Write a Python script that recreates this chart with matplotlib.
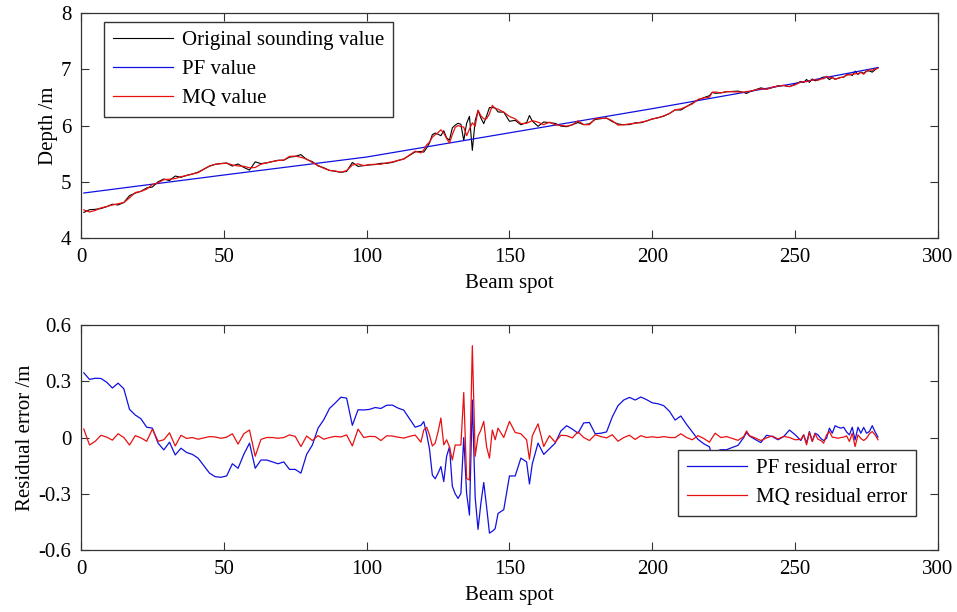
import numpy as np
import matplotlib
matplotlib.use("Agg")
import matplotlib.pyplot as plt

plt.rcParams['font.family'] = ['Liberation Serif', 'DejaVu Serif']
plt.rcParams['axes.unicode_minus'] = False
plt.rcParams['font.size'] = 15

# beam spot index of each sample
beam_spot = [1, 3, 5, 7, 9, 11, 13, 15, 17, 19, 21, 23, 25, 27, 29, 31, 33, 35, 37, 39,
             41, 43, 45, 47, 49, 51, 53, 55, 57, 59, 61, 63, 65, 67, 69, 71, 73, 75, 77, 79,
             81, 83, 85, 87, 89, 91, 93, 95, 97, 99, 101, 103, 105, 107, 109, 111, 113, 115, 117, 119,
             120, 121, 122, 123, 124, 125, 126, 127, 128, 129, 130, 131, 132, 133, 134, 135, 136,
             137, 138, 139, 140, 141, 142, 143, 144, 145, 146,
             148, 150, 152, 154, 156, 157, 158, 160, 162, 164, 166, 168, 170, 172, 174, 176, 178,
             180, 182, 184, 186, 188, 190, 192, 194, 196, 198, 200, 202, 204, 206, 208, 210, 212,
             214, 216, 218, 220, 221, 222, 224, 226, 228, 230, 232, 233, 234, 236, 238, 240, 242,
             244, 246, 248, 250,
             252, 253, 254, 255, 256, 257, 258, 259, 260, 261, 262, 263, 264, 265, 266, 267, 268,
             269, 270, 271, 272, 273, 274, 275, 276, 277, 278, 279]

# original sounding depth (m)
sounding = [4.455, 4.503, 4.510, 4.524, 4.557, 4.601, 4.588, 4.631, 4.754, 4.798,
            4.831, 4.889, 4.907, 5.000, 5.049, 5.021, 5.102, 5.079, 5.115, 5.138,
            5.171, 5.224, 5.277, 5.309, 5.325, 5.331, 5.279, 5.316, 5.255, 5.208,
            5.354, 5.323, 5.336, 5.359, 5.382, 5.384, 5.437, 5.450, 5.483, 5.396,
            5.358, 5.281, 5.249, 5.202, 5.186, 5.167, 5.185, 5.343, 5.273, 5.287,
            5.299, 5.306, 5.328, 5.328, 5.344, 5.378, 5.406, 5.469, 5.531, 5.538,
            5.527, 5.601, 5.689, 5.838, 5.866, 5.845, 5.819, 5.907, 5.781, 5.739,
            5.958, 6.007, 6.040, 6.022, 5.732, 6.039, 6.164, 5.558, 6.087, 6.265,
            6.134, 6.033, 6.171, 6.320, 6.318, 6.313, 6.241,
            6.238, 6.075, 6.092, 6.014, 6.052, 6.178, 6.079, 5.986, 6.063, 6.050,
            6.038, 5.990, 5.979, 6.014, 6.053, 6.016, 6.031, 6.108, 6.122, 6.132,
            6.070, 6.027, 6.014, 6.017, 6.048, 6.050, 6.081, 6.115, 6.138, 6.166,
            6.214, 6.279, 6.275, 6.338, 6.396, 6.454, 6.495, 6.530, 6.591, 6.573,
            6.581, 6.599, 6.605, 6.612, 6.588, 6.570, 6.598, 6.634, 6.669, 6.648,
            6.673, 6.708, 6.709, 6.692, 6.735,
            6.785, 6.765, 6.819, 6.767, 6.828, 6.795, 6.814, 6.842, 6.863, 6.861,
            6.816, 6.853, 6.823, 6.841, 6.855, 6.860, 6.895, 6.920, 6.889, 6.967,
            6.908, 6.950, 6.929, 6.970, 6.970, 6.949, 6.992, 7.029]

# PF residual error (m)
pf_resid = [0.345, 0.31, 0.316, 0.315, 0.295, 0.264, 0.29, 0.26, 0.15, 0.12,
            0.10, 0.055, 0.05, -0.03, -0.066, -0.025, -0.093, -0.057, -0.08, -0.09,
            -0.11, -0.15, -0.19, -0.209, -0.212, -0.205, -0.14, -0.164, -0.09, -0.03,
            -0.164, -0.12, -0.12, -0.13, -0.14, -0.13, -0.17, -0.17, -0.19, -0.09,
            -0.04, 0.05, 0.095, 0.155, 0.184, 0.215, 0.21, 0.065, 0.148, 0.147,
            0.15, 0.16, 0.155, 0.172, 0.173, 0.157, 0.146, 0.10, 0.055, 0.065,
            0.085, 0.02, -0.06, -0.2, -0.22, -0.19, -0.155, -0.235, -0.10, -0.05,
            -0.26, -0.30, -0.325, -0.298, 0.0, -0.298, -0.414, 0.20, -0.32, -0.49,
            -0.35, -0.24, -0.37, -0.51, -0.50, -0.486, -0.405,
            -0.385, -0.205, -0.205, -0.11, -0.13, -0.248, -0.14, -0.03, -0.09, -0.06,
            -0.03, 0.035, 0.063, 0.045, 0.023, 0.078, 0.08, 0.02, 0.023, 0.03,
            0.11, 0.17, 0.20, 0.214, 0.20, 0.216, 0.202, 0.185, 0.18, 0.17,
            0.14, 0.093, 0.115, 0.07, 0.03, -0.01, -0.033, -0.05, -0.102, -0.075,
            -0.065, -0.065, -0.053, -0.042, 0.0, 0.027, 0.008, -0.01, -0.027, 0.012,
            0.005, -0.012, 0.005, 0.04, 0.015,
            -0.016, 0.014, -0.03, 0.032, -0.02, 0.023, 0.014, -0.005, -0.016, -0.004,
            0.05, 0.023, 0.063, 0.055, 0.05, 0.055, 0.03, 0.014, 0.055, -0.013,
            0.055, 0.023, 0.054, 0.023, 0.032, 0.063, 0.03, 0.002]

# MQ residual error (m)
mq_resid = [0.045, -0.04, -0.02, 0.012, 0.002, -0.014, 0.02, 0.0, -0.04, 0.01,
            -0.002, -0.02, 0.045, -0.02, -0.012, 0.025, -0.045, 0.012, -0.005, 0.0,
            -0.009, -0.002, 0.005, 0.003, -0.004, 0.002, 0.02, -0.035, 0.02, 0.04,
            -0.10, -0.01, 0.0, 0.0, -0.004, 0.0, 0.014, 0.006, -0.048, 0.008,
            -0.016, 0.01, -0.009, 0.0, 0.006, 0.003, 0.014, -0.045, 0.045, 0.0,
            0.006, 0.005, -0.016, 0.009, 0.008, 0.002, -0.003, 0.006, 0.013, -0.025,
            0.04, 0.055, 0.014, -0.045, -0.03, 0.03, 0.104, -0.039, -0.012, -0.05,
            -0.12, -0.04, -0.04, -0.04, 0.24, -0.218, -0.227, 0.49, -0.10, 0.007,
            0.04, 0.086, -0.05, -0.11, 0.04, -0.012, 0.05,
            0.0, 0.086, 0.027, 0.02, -0.012, -0.116, 0.009, 0.073, -0.048, 0.01,
            -0.025, 0.012, 0.01, -0.002, 0.03, 0.0, -0.016, 0.015, 0.005, -0.002,
            0.015, -0.02, 0.0, 0.012, -0.01, 0.01, 0.0, 0.004, 0.0, 0.005,
            0.0, 0.0, 0.02, 0.0, -0.012, 0.01, -0.005, -0.025, 0.0, 0.023,
            0.0, 0.005, -0.005, -0.015, 0.005, 0.035, 0.01, -0.002, -0.016, -0.002,
            0.008, -0.008, 0.006, 0.0, -0.012,
            -0.01, 0.014, -0.039, 0.027, -0.021, 0.02, -0.009, -0.016, -0.03, 0.014,
            0.032, 0.002, 0.0, -0.004, 0.0, 0.002, 0.009, -0.021, 0.023, -0.048,
            0.014, -0.005, -0.016, -0.004, 0.02, 0.032, 0.014, -0.012]

# polynomial fit surface (smooth), read at a few beam spots
pf_spot = [1, 25, 50, 75, 100, 125, 150, 175, 200, 225, 250, 279]
pf_depth = [4.80, 4.957, 5.12, 5.28, 5.44, 5.655, 5.87, 6.085, 6.30, 6.525, 6.75, 7.03]

assert len(beam_spot) == len(sounding) == len(pf_resid) == len(mq_resid)

x = np.array(beam_spot)
depth = np.array(sounding)
mq_value = depth + np.array(mq_resid)

fig = plt.figure(figsize=(9.57, 6.12), dpi=100)
ax1 = fig.add_axes([0.0846, 0.6111, 0.8955, 0.3676])
ax2 = fig.add_axes([0.0846, 0.1013, 0.8955, 0.3676])

leg_kw = dict(borderaxespad=0, fancybox=False, edgecolor='#333333', framealpha=1,
              handlelength=2.9, labelspacing=0.45, borderpad=0.42, handletextpad=0.4)

# top panel: depths
ax1.plot(x, depth, color='k', lw=0.8, label='Original sounding value')
ax1.plot(pf_spot, pf_depth, color='#1010e0', lw=0.9, label='PF value')
ax1.plot(x, mq_value, color='#e81010', lw=0.9, label='MQ value')
ax1.set_xlim(0, 300)
ax1.set_ylim(4, 8)
ax1.set_yticks([4, 5, 6, 7, 8])
ax1.set_xlabel('Beam spot', labelpad=5)
ax1.set_ylabel('Depth /m', labelpad=2)
ax1.legend(loc='upper left', bbox_to_anchor=(0.027, 0.96), **leg_kw)

# bottom panel: residuals
ax2.plot(x, pf_resid, color='#1010e0', lw=0.9, label='PF residual error')
ax2.plot(x, mq_resid, color='#e81010', lw=0.9, label='MQ residual error')
ax2.set_xlim(0, 300)
ax2.set_ylim(-0.6, 0.6)
ax2.set_yticks([-0.6, -0.3, 0, 0.3, 0.6])
ax2.set_yticklabels(['-0.6', '-0.3', '0', '0.3', '0.6'])
ax2.set_xlabel('Beam spot', labelpad=5)
ax2.set_ylabel('Residual error /m', labelpad=2.5)
ax2.legend(loc='lower right', bbox_to_anchor=(0.974, 0.152), **leg_kw)

for ax in (ax1, ax2):
    ax.set_xticks([0, 50, 100, 150, 200, 250, 300])
    ax.tick_params(direction='in', top=True, right=True, length=6, width=0.8,
                   color='#333333', labelsize=15, pad=7)
    for sp in ax.spines.values():
        sp.set_color('#333333')
        sp.set_linewidth(0.9)

fig.savefig('out.png', dpi=100)
